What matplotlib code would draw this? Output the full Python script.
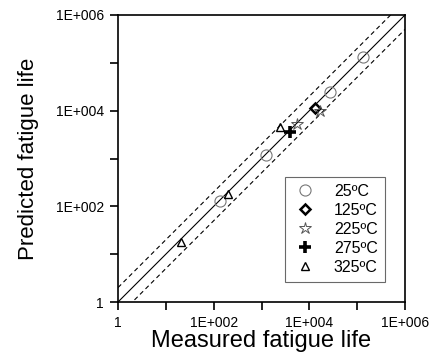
import matplotlib
matplotlib.use("Agg")
import matplotlib.pyplot as plt
from matplotlib.ticker import FixedLocator, FixedFormatter

plt.rcParams['font.family'] = ['Liberation Sans', 'DejaVu Sans']

# measured vs predicted fatigue life, per temperature
t25_meas = [1.35e5, 2.7e4, 1.23e3, 1.35e2]
t25_pred = [1.35e5, 2.45e4, 1.2e3, 1.32e2]
t125_meas = [1.3e4]
t125_pred = [1.12e4]
t225_meas = [5.5e3, 1.65e4]
t225_pred = [5.2e3, 1.0e4]
t275_meas = [4.0e3]
t275_pred = [3.6e3]
t325_meas = [2.45e3, 1.95e2, 2.1e1]
t325_pred = [4.5e3, 1.78e2, 1.78e1]

fig = plt.figure(figsize=(4.33, 3.6), dpi=100)
ax = fig.add_axes([118/433, 58/360, 287/433, 287/360])

lim = [1, 1e6]
ax.plot(lim, lim, color='black', lw=0.8)
ax.plot(lim, [2, 2e6], color='black', lw=0.8, ls=(0, (4, 3)))
ax.plot(lim, [0.5, 5e5], color='black', lw=0.8, ls=(0, (4, 3)))

ax.plot(t25_meas, t25_pred, ls='none', marker='o', ms=8, mfc='none', mec='#777777', mew=0.8, label='25ºC')
ax.plot(t125_meas, t125_pred, ls='none', marker='D', ms=5, mfc='none', mec='black', mew=1.8, label='125ºC')
ax.plot(t225_meas, t225_pred, ls='none', marker='*', ms=9, mfc='none', mec='#555555', mew=0.7, label='225ºC')
ax.plot(t275_meas, t275_pred, ls='none', marker='+', ms=9, mec='black', mew=2.6, label='275ºC')
ax.plot(t325_meas, t325_pred, ls='none', marker='^', ms=6, mfc='none', mec='black', mew=1.0, label='325ºC')

ax.set_xscale('log')
ax.set_yscale('log')
ax.set_xlim(lim)
ax.set_ylim(lim)

decades = [1, 1e1, 1e2, 1e3, 1e4, 1e5, 1e6]
tick_labels = ['1', '', '1E+002', '', '1E+004', '', '1E+006']
for axis in (ax.xaxis, ax.yaxis):
    axis.set_major_locator(FixedLocator(decades))
    axis.set_major_formatter(FixedFormatter(tick_labels))
    axis.set_minor_locator(FixedLocator([]))
ax.tick_params(direction='out', length=6, width=1.2, labelsize=10, pad=4)
for s in ax.spines.values():
    s.set_linewidth(1.2)

ax.set_xlabel('Measured fatigue life', fontsize=17, labelpad=0)
ax.set_ylabel('Predicted fatigue life', fontsize=16, labelpad=12)

leg = ax.legend(loc='lower right', bbox_to_anchor=(0.93, 0.07), fontsize=11.5,
                frameon=True, fancybox=False, edgecolor='#444444',
                handletextpad=1.0, labelspacing=0.25, borderpad=0.45,
                handlelength=1.6, borderaxespad=0)
leg.get_frame().set_linewidth(0.8)

fig.savefig('out.png', dpi=100)
